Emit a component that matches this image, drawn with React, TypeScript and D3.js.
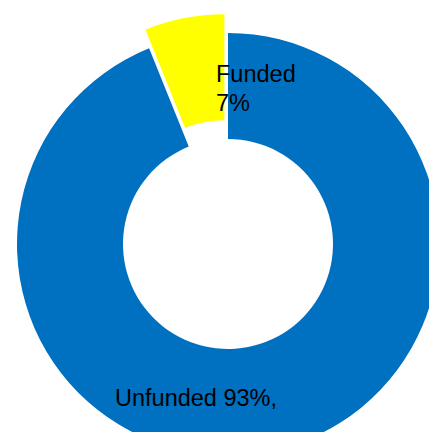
import React from 'react';
import * as d3 from 'd3';

// slice values (angles), label text as printed
const categories = ['Funded', 'Unfunded'];
const values = [6.1, 93.9];
const labelText = ['Funded\n7%', 'Unfunded 93%,'];
const colors = ['#FFFF00', '#0070C0'];

const width = 429;
const height = 432;
const cx = 228;
const cy = 244;
const outerR = 211;
const innerR = 105;
const explode = 19;

// label anchors (left edge, first baseline)
const labelPos = [
  { x: 216, y: 82 },
  { x: 115, y: 406 },
];

function App() {
  const pie = d3
    .pie<number>()
    .sort(null)
    .startAngle(-(2 * Math.PI) * (values[0] / d3.sum(values)))
    .endAngle(2 * Math.PI - (2 * Math.PI) * (values[0] / d3.sum(values)));

  const arcs = pie(values);
  const arc = d3.arc<d3.PieArcDatum<number>>().innerRadius(innerR).outerRadius(outerR);

  return (
    <div style={{ position: 'fixed', left: 0, top: 0 }}>
      <svg width={width} height={height} style={{ display: 'block', background: '#fff' }}>
        <g transform={`translate(${cx},${cy})`}>
          {arcs.map((a, i) => {
            const mid = (a.startAngle + a.endAngle) / 2;
            const off = i === 0 ? explode : 0;
            const dx = Math.sin(mid) * off;
            const dy = -Math.cos(mid) * off;
            return (
              <path
                key={categories[i]}
                d={arc(a) || ''}
                fill={colors[i]}
                transform={`translate(${dx},${dy})`}
              />
            );
          })}
        </g>
        {labelText.map((t, i) => (
          <text
            key={i}
            x={labelPos[i].x}
            y={labelPos[i].y}
            fontFamily="Liberation Sans, Arial, sans-serif"
            fontSize={23.5}
            fill="#000"
          >
            {t.split('\n').map((line, j) => (
              <tspan key={j} x={labelPos[i].x} dy={j === 0 ? 0 : 29}>
                {line}
              </tspan>
            ))}
          </text>
        ))}
      </svg>
    </div>
  );
}

export default App;
